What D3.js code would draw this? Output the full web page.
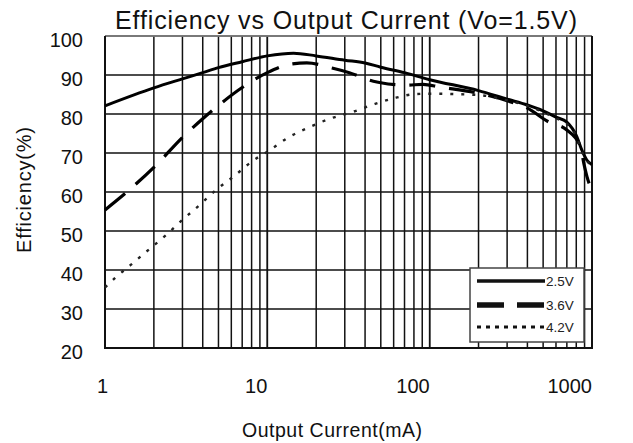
<!DOCTYPE html>
<html>
<head>
<meta charset="utf-8">
<script src="https://cdn.jsdelivr.net/npm/d3@7"></script>
<style>
  body { margin: 0; background: #fff; }
  svg { display: block; font-family: Arial, "Liberation Sans", sans-serif; }
</style>
</head>
<body>
<div id="chart"></div>
<script>
// tick values
const xTicks = [1, 10, 100, 1000];
const xTickLabels = ['1', '10', '100', '1000'];
const yTicks = [20, 30, 40, 50, 60, 70, 80, 90, 100];

// 2.5V (solid)
const current25 = [1, 2, 3, 4, 5, 7, 10, 14.5, 20, 30, 40, 50, 70, 100, 200, 300, 400, 500, 600, 700, 806, 865, 929, 1000];
const eff25 = [82.1, 86.7, 89, 90.6, 91.9, 93.4, 94.9, 95.6, 94.9, 93.8, 93.1, 92, 90.6, 88.8, 86, 83.8, 82.3, 80.8, 79.2, 77.9, 74.2, 70.8, 68.2, 67];

// 3.6V (dashed)
const current36 = [1, 1.5, 2, 3, 4, 5, 7, 10, 14, 17.5, 25, 32, 45, 50, 72, 91, 116, 200, 300, 400, 539, 700, 850, 890, 930, 1000];
const eff36 = [55.4, 61.5, 66.3, 74, 78.8, 82.2, 86.8, 90.6, 92.8, 93.1, 91.8, 90.6, 88.4, 88, 87.4, 87.6, 86.9, 85.3, 83.4, 81.5, 78, 75.9, 71.6, 67.4, 64, 60.5];

// 4.2V (dotted)
const current42 = [1, 1.15, 1.44, 1.87, 2.37, 2.99, 3.81, 4.88, 6.17, 8.02, 10.4, 13.5, 18.3, 24.3, 33.9, 46.1, 59.7, 81.3, 100, 195, 300, 400, 500, 600, 700, 806, 865, 929, 1000];
const eff42 = [35.5, 37.9, 41.3, 45.3, 48.9, 52.8, 56.6, 60.7, 63.9, 67.8, 70.8, 74, 76.7, 78.8, 80.6, 82.6, 84, 85.1, 85.2, 84.9, 83.5, 82.1, 80.5, 78.9, 77.5, 74, 70.5, 68, 66.8];

const legendLabels = ['2.5V', '3.6V', '4.2V'];

const W = 633, H = 443;
const margin = { top: 36, right: 41, bottom: 95, left: 105 };
const width = W - margin.left - margin.right;
const height = H - margin.top - margin.bottom;

const svg = d3.select('#chart').append('svg')
  .attr('width', W)
  .attr('height', H);

const x = d3.scaleLog().domain([1, 1000]).range([margin.left, margin.left + width]);
const y = d3.scaleLinear().domain([20, 100]).range([margin.top + height, margin.top]);

// grid: every integer step within each decade
const xGrid = [];
[1, 10, 100].forEach(d => { for (let k = 1; k <= 10; k++) xGrid.push(d * k); });

const grid = svg.append('g').attr('class', 'grid');
grid.selectAll('line.v')
  .data(xGrid)
  .enter().append('line')
  .attr('class', 'v')
  .attr('x1', d => x(d)).attr('x2', d => x(d))
  .attr('y1', y(20)).attr('y2', y(100))
  .attr('stroke', '#111')
  .attr('stroke-width', 1.5);
grid.selectAll('line.h')
  .data(yTicks)
  .enter().append('line')
  .attr('class', 'h')
  .attr('x1', x(1)).attr('x2', x(1000))
  .attr('y1', d => y(d)).attr('y2', d => y(d))
  .attr('stroke', '#111')
  .attr('stroke-width', 1.5);

// frame
svg.append('line')
  .attr('x1', x(1)).attr('x2', x(1000))
  .attr('y1', y(100)).attr('y2', y(100))
  .attr('stroke', '#888').attr('stroke-width', 1.5);
svg.append('path')
  .attr('d', `M${x(1)},${y(100)}V${y(20)}H${x(1000)}V${y(100)}`)
  .attr('fill', 'none')
  .attr('stroke', '#111')
  .attr('stroke-width', 2);

// y tick labels
svg.append('g').selectAll('text')
  .data(yTicks)
  .enter().append('text')
  .attr('x', 83)
  .attr('y', d => y(d) + 11)
  .attr('text-anchor', 'end')
  .attr('font-size', 20)
  .attr('fill', '#111')
  .text(d => d);

// x tick labels
svg.append('g').selectAll('text')
  .data(xTicks)
  .enter().append('text')
  .attr('x', (d, i) => x(d) + (i === 0 ? 3 : 0))
  .attr('y', 393)
  .attr('text-anchor', 'end')
  .attr('font-size', 20)
  .attr('fill', '#111')
  .text((d, i) => xTickLabels[i]);

// titles
svg.append('text')
  .attr('x', 346).attr('y', 29)
  .attr('text-anchor', 'middle')
  .attr('font-size', 25)
  .attr('textLength', 462)
  .attr('lengthAdjust', 'spacing')
  .attr('fill', '#111')
  .text('Efficiency vs Output Current (Vo=1.5V)');

svg.append('text')
  .attr('x', 332).attr('y', 437)
  .attr('text-anchor', 'middle')
  .attr('font-size', 19.5)
  .attr('textLength', 180)
  .attr('lengthAdjust', 'spacing')
  .attr('fill', '#111')
  .text('Output Current(mA)');

svg.append('text')
  .attr('transform', 'translate(31,190) rotate(-90)')
  .attr('text-anchor', 'middle')
  .attr('font-size', 20)
  .attr('textLength', 126)
  .attr('lengthAdjust', 'spacing')
  .attr('fill', '#111')
  .text('Efficiency(%)');

// curves
const line = d3.line()
  .x(d => x(d[0]))
  .y(d => y(d[1]))
  .curve(d3.curveMonotoneX);

const series = [
  { xs: current25, ys: eff25, width: 3, dash: null, color: '#000' },
  { xs: current36, ys: eff36, width: 3.2, dash: '26,14', color: '#000' },
  { xs: current42, ys: eff42, width: 2.4, dash: '3,8', color: '#222' }
];

svg.append('g').selectAll('path')
  .data(series)
  .enter().append('path')
  .attr('d', s => line(s.xs.map((v, i) => [v, s.ys[i]])))
  .attr('fill', 'none')
  .attr('stroke', s => s.color)
  .attr('stroke-width', s => s.width)
  .attr('stroke-dasharray', s => s.dash);

// legend
const lg = svg.append('g').attr('class', 'legend');
lg.append('rect')
  .attr('x', 470).attr('y', 268)
  .attr('width', 114).attr('height', 74)
  .attr('fill', '#fff')
  .attr('stroke', '#444')
  .attr('stroke-width', 1.5);

const legendStyles = [
  { width: 3.5, dash: null },
  { width: 5.5, dash: '27,13' },
  { width: 3, dash: '4,5' }
];
const legendY = [281, 305, 327];

legendLabels.forEach((lab, i) => {
  lg.append('line')
    .attr('x1', 477).attr('x2', 545)
    .attr('y1', legendY[i]).attr('y2', legendY[i])
    .attr('stroke', '#111')
    .attr('stroke-width', legendStyles[i].width)
    .attr('stroke-dasharray', legendStyles[i].dash);
  lg.append('text')
    .attr('x', 546).attr('y', legendY[i] + 5)
    .attr('font-size', 13.5)
    .attr('fill', '#222')
    .text(lab);
});
</script>
</body>
</html>
